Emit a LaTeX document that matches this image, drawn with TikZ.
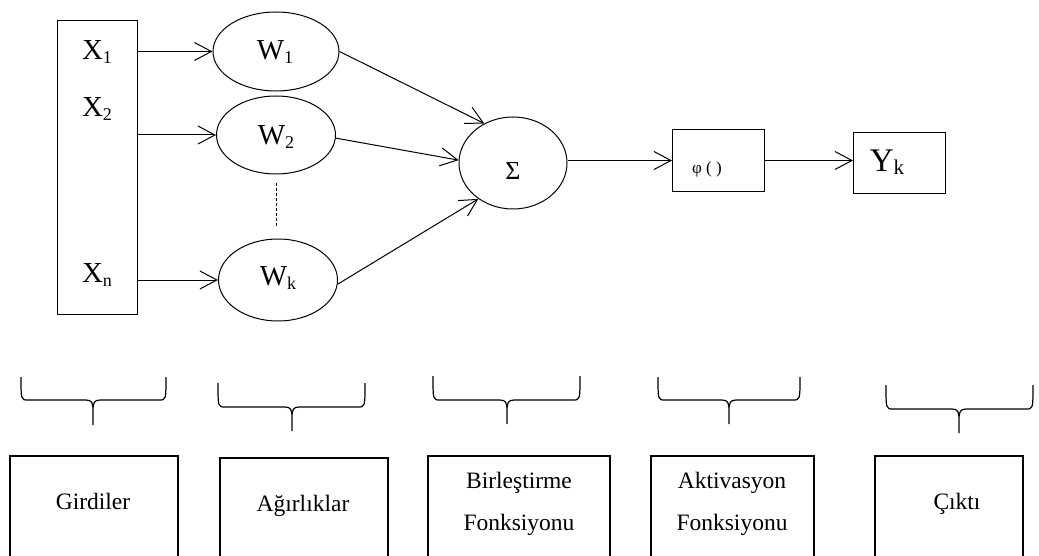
\documentclass[tikz,border=0pt]{standalone}
\usepackage{fontspec}
\setmainfont{Liberation Serif}
\usetikzlibrary{arrows.meta,shapes.geometric,calc}
\newcommand{\fBig}{\fontsize{29}{29}\selectfont}
\newcommand{\fSub}{\fontsize{18}{18}\selectfont}
\newcommand{\fLab}{\fontsize{23.5}{42}\selectfont}
\newcommand{\brc}[6]{%
  \draw[brace] (#1,#4) .. controls (#1,#5) and (#1,#5) .. (#1+7,#5) -- (#3-7,#5)
     .. controls (#3-1,#5) and (#3,#5+3) .. (#3,#5+11) -- (#3,#6)
     (#3,#5+11) .. controls (#3,#5+3) and (#3+1,#5) .. (#3+7,#5) -- (#2-7,#5)
     .. controls (#2,#5) and (#2,#5) .. (#2,#4);}
\begin{document}
\begin{tikzpicture}[x=1pt,y=-1pt,line width=1pt,
  arr/.style={-{Straight Barb[length=17pt,width=18pt,line width=1pt]}},
  ell/.style={draw,ellipse,inner sep=0pt},
  box/.style={draw,rectangle,inner sep=0pt,anchor=north west},
  lbox/.style={draw,rectangle,inner sep=0pt,anchor=north west,line width=2pt},
  brace/.style={line width=1.2pt,line join=round},
  lab/.style={font=\fLab}]
\useasboundingbox (0,0) rectangle (1039,556);
% inputs
\node[box,minimum width=80pt,minimum height=294pt] (in) at (57,20) {};
\node[anchor=base] (lx1) at (97,60) {\fBig X\raisebox{-4pt}{\fSub 1}};
\node[anchor=base] (lx2) at (97,117) {\fBig X\raisebox{-4pt}{\fSub 2}};
\node[anchor=base] (lxn) at (97,282) {\fBig X\raisebox{-4pt}{\fSub n}};
% weights
\node[ell,minimum width=126pt,minimum height=79pt] (w1) at (276,51.5) {};
\node[ell,minimum width=119pt,minimum height=78pt] (w2) at (276,135) {};
\node[ell,minimum width=119pt,minimum height=82pt] (wk) at (278,280) {};
\node[anchor=base] (lw1) at (275,60) {\fBig W\raisebox{-4pt}{\fSub 1}};
\node[anchor=base] (lw2) at (276,145) {\fBig W\raisebox{-4pt}{\fSub 2}};
\node[anchor=base] (lwk) at (278,285) {\fBig W\raisebox{-4pt}{\fSub k}};
\coordinate (d1) at (276,183);
\coordinate (d2) at (276,227);
\draw[dash pattern=on 3pt off 2pt,line width=0.8pt] (d1) -- (d2);
% sum
\node[ell,minimum width=108pt,minimum height=92pt] (sig) at (513,163) {};
\node[anchor=base] (lsig) at (513,180) {\fontsize{26}{26}\selectfont Σ};
% activation
\node[box,minimum width=92pt,minimum height=62pt] (phi) at (672,129) {};
\node[anchor=base] (lphi) at (707,174) {\fontsize{17}{17}\selectfont φ ( )};
% output
\node[box,minimum width=92pt,minimum height=61pt] (yb) at (853,132) {};
\node[anchor=base] (ly) at (887,172) {\fontsize{33}{33}\selectfont Y\raisebox{-3pt}{\fontsize{21}{21}\selectfont k}};
% arrows
\draw[arr] (in.east |- w1.west) -- (w1.west);
\draw[arr] (in.east |- w2.west) -- (w2.west);
\draw[arr] (in.east |- wk.west) -- (wk.west);
\draw[arr] (w1.east) -- (sig.126);
\draw[arr] (w2.-3) -- (sig.177);
\draw[arr] (wk.-4) -- (sig.226);
\draw[arr] (phi.west -| sig.east) -- (phi.west);
\draw[arr] (phi.east) -- (phi.east -| yb.west);
% braces
\brc{21}{166}{93}{377}{400}{425}
\brc{218}{365}{292}{383}{407}{431}
\brc{433}{580}{507}{376}{400}{424}
\brc{658}{800}{729}{377}{400}{424}
\brc{886}{1033}{959}{385}{409}{433}
% bottom boxes
\node[lbox,minimum width=168pt,minimum height=101pt] (b1) at (9,455) {};
\node[lbox,minimum width=168pt,minimum height=99pt] (b2) at (219,457) {};
\node[lbox,minimum width=182pt,minimum height=101pt] (b3) at (427,455) {};
\node[lbox,minimum width=163pt,minimum height=101pt] (b4) at (650,455) {};
\node[lbox,minimum width=148pt,minimum height=101pt] (b5) at (874,455) {};
\node[lab,anchor=base] (t1) at (93,509) {Girdiler};
\node[lab,anchor=base] (t2) at (303,511) {Ağırlıklar};
\node[lab,align=center] (t3) at (519,503.5) {Birleştirme\\Fonksiyonu};
\node[lab,align=center] (t4) at (732,503.5) {Aktivasyon\\Fonksiyonu};
\node[lab,anchor=base] (t5) at (957,509) {Çıktı};
\end{tikzpicture}
\end{document}
